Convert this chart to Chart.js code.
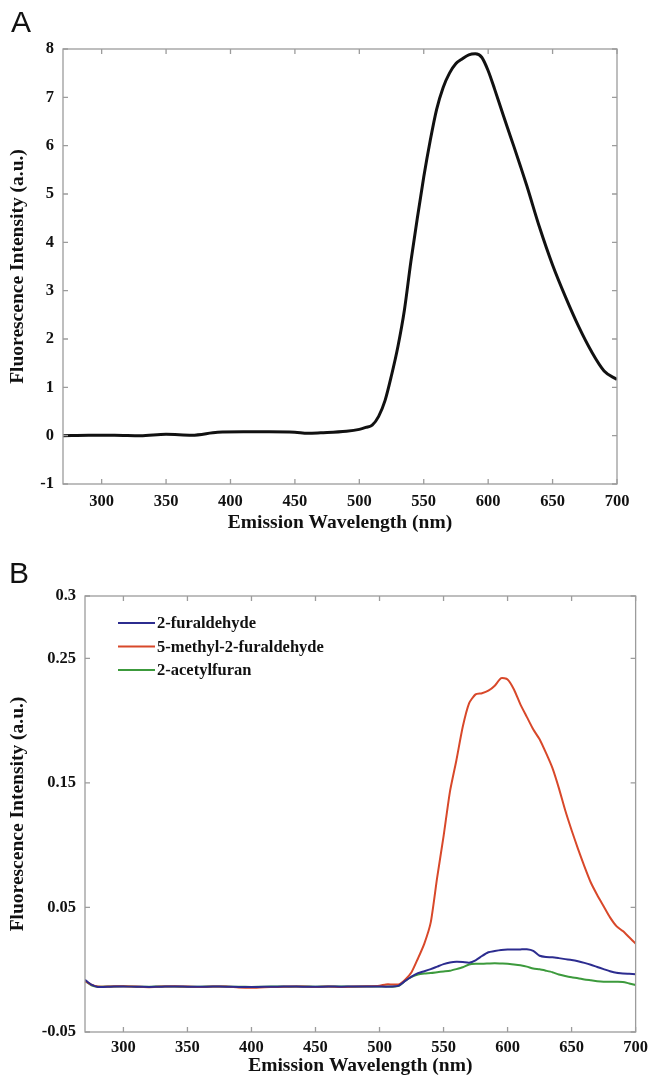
<!doctype html>
<html lang="en">
  <head>
    <meta charset="utf-8">
    <title>Fluorescence emission spectra</title>
    <style>
      * {
        margin: 0;
        padding: 0;
      }
      body {
        width: 654px;
        height: 1076px;
        background: white;
        position: relative;
        overflow: hidden;
      }
      .panel {
        position: absolute;
        left: 0;
        width: 654px;
      }
      #panelA { top: 0; height: 545px; }
      #panelB { top: 545px; height: 531px; }
      .tag {
        position: absolute;
        font-family: "Liberation Sans", Arial, sans-serif;
        font-size: 30px;
        line-height: 1;
        color: #111;
      }
    </style>
  </head>
  <body>
    <div class="panel" id="panelA"><canvas id="chartA"></canvas></div>
    <div class="panel" id="panelB"><canvas id="chartB"></canvas></div>
    <div class="tag" style="left:11px; top:7px;">A</div>
    <div class="tag" style="left:9px; top:558px;">B</div>

    <script src="https://cdn.jsdelivr.net/npm/chart.js/dist/chart.umd.min.js"></script>
    <script>
    // panel A - single spectrum
    const wavelengthsA = [270, 290, 310, 330, 350, 370, 390, 410, 430, 450, 460, 470, 490, 500, 505,
      510, 515, 520, 525, 530, 535, 540, 545, 550, 555, 560, 565, 570, 575, 580, 585, 590, 595,
      600, 605, 610, 615, 620, 625, 630, 640, 650, 660, 670, 680, 690, 700];
    const intensityA = [0.0, 0.01, 0.01, 0.0, 0.03, 0.01, 0.07, 0.08, 0.08, 0.07, 0.05, 0.06, 0.09, 0.13, 0.17,
      0.22, 0.4, 0.73, 1.25, 1.85, 2.6, 3.6, 4.5, 5.35, 6.1, 6.75, 7.2, 7.5, 7.7, 7.8, 7.88, 7.9, 7.83,
      7.55, 7.17, 6.77, 6.37, 5.98, 5.58, 5.17, 4.3, 3.53, 2.87, 2.27, 1.75, 1.34, 1.16];

    // panel B - three furans
    const wavelengthsB = [270, 275, 280, 290, 300, 310, 320, 330, 340, 350, 360, 370, 380, 390, 400,
      410, 420, 430, 440, 450, 460, 470, 480, 490, 500, 505, 510, 515, 520, 525, 530, 535, 540,
      545, 550, 555, 560, 565, 570, 575, 580, 585, 590, 595, 600, 605, 610, 615, 620, 625, 630,
      635, 640, 645, 650, 655, 660, 665, 670, 675, 680, 685, 690, 695, 700];
    const furaldehyde = [-0.008, -0.012, -0.0138, -0.0136, -0.0134, -0.0137, -0.0138, -0.0136, -0.0134, -0.0136, -0.0137, -0.0135, -0.0136, -0.0138, -0.0139,
      -0.0137, -0.0136, -0.0135, -0.0136, -0.0137, -0.0135, -0.0136, -0.0135, -0.0134, -0.0135, -0.0136, -0.0135, -0.0128, -0.009, -0.0055, -0.0028, -0.0012, 0.0005,
      0.0025, 0.0045, 0.0058, 0.0064, 0.0062, 0.0056, 0.0075, 0.011, 0.014, 0.015, 0.0158, 0.0162, 0.0162, 0.0163, 0.0164, 0.0152, 0.0112, 0.0102,
      0.01, 0.0093, 0.0085, 0.0078, 0.0068, 0.0055, 0.004, 0.0022, 0.0005, -0.0012, -0.0025, -0.003, -0.0033, -0.0036];
    const methylFuraldehyde = [-0.009, -0.012, -0.0135, -0.0135, -0.0132, -0.0135, -0.014, -0.0135, -0.0133, -0.0135, -0.0138, -0.0135, -0.0135, -0.0142, -0.0145,
      -0.014, -0.0138, -0.0135, -0.0135, -0.0138, -0.0135, -0.0138, -0.0135, -0.0133, -0.0128, -0.0118, -0.0118, -0.0118, -0.008, -0.002, 0.009, 0.021, 0.038,
      0.074, 0.107, 0.143, 0.168, 0.195, 0.214, 0.221, 0.222, 0.224, 0.228, 0.234, 0.233, 0.225, 0.213, 0.203, 0.193, 0.185, 0.174,
      0.162, 0.146, 0.128, 0.112, 0.097, 0.083, 0.07, 0.06, 0.051, 0.042, 0.035, 0.031, 0.026, 0.021];
    const acetylfuran = [-0.009, -0.0125, -0.0136, -0.0135, -0.0133, -0.0136, -0.0137, -0.0134, -0.0135, -0.0137, -0.0136, -0.0134, -0.0135, -0.0137, -0.0138,
      -0.0136, -0.0135, -0.0136, -0.0135, -0.0136, -0.0134, -0.0135, -0.0136, -0.0135, -0.0134, -0.0135, -0.0136, -0.013, -0.009, -0.0058, -0.0038, -0.003, -0.0026,
      -0.002, -0.0014, -0.0008, 0.0005, 0.002, 0.0042, 0.0048, 0.0048, 0.005, 0.0052, 0.005, 0.0048, 0.0042, 0.0035, 0.0025, 0.001, 0.0003, -0.0008,
      -0.002, -0.0038, -0.005, -0.006, -0.0068, -0.0078, -0.0085, -0.0092, -0.0096, -0.0096, -0.0097, -0.0098, -0.011, -0.0123];

    const seriesNames = ['2-furaldehyde', '5-methyl-2-furaldehyde', '2-acetylfuran'];
    const xTicks = [300, 350, 400, 450, 500, 550, 600, 650, 700];
    const yTicksA = [-1, 0, 1, 2, 3, 4, 5, 6, 7, 8];
    const yTicksB = [-0.05, 0.05, 0.15, 0.25, 0.3];
    const yTickLabelsB = ['-0.05', '0.05', '0.15', '0.25', '0.3'];

    const pts = (xs, ys) => xs.map((x, i) => ({x: x, y: ys[i]}));

    const serif = '"Liberation Serif", "Times New Roman", serif';
    const tickFont = {family: serif, size: 16.5, weight: 'bold'};
    const titleFont = {family: serif, size: 19.5, weight: 'bold'};

    // box around the plot with inward ticks on all four sides
    const frameTicks = {
      id: 'frameTicks',
      afterDatasetsDraw(chart) {
        const {ctx, chartArea: a, scales: {x, y}} = chart;
        ctx.save();
        ctx.strokeStyle = '#9c9c9c';
        ctx.lineWidth = 1.3;
        ctx.strokeRect(a.left, a.top, a.width, a.height);
        ctx.beginPath();
        x.ticks.forEach(t => {
          const px = x.getPixelForValue(t.value);
          ctx.moveTo(px, a.bottom); ctx.lineTo(px, a.bottom - 5);
          ctx.moveTo(px, a.top); ctx.lineTo(px, a.top + 5);
        });
        y.ticks.forEach(t => {
          const py = y.getPixelForValue(t.value);
          ctx.moveTo(a.left, py); ctx.lineTo(a.left + 5, py);
          ctx.moveTo(a.right, py); ctx.lineTo(a.right - 5, py);
        });
        ctx.stroke();
        ctx.restore();
      }
    };

    // legend drawn inside the plot, top left
    const innerLegend = {
      id: 'innerLegend',
      afterDraw(chart, args, opts) {
        if (!opts.show) return;
        const {ctx, chartArea: a} = chart;
        ctx.save();
        ctx.font = 'bold 16.5px ' + serif;
        ctx.textBaseline = 'middle';
        ctx.fillStyle = '#111';
        chart.data.datasets.forEach((ds, i) => {
          const yy = a.top + 27 + i * 23.5;
          ctx.strokeStyle = ds.borderColor;
          ctx.lineWidth = 2;
          ctx.beginPath();
          ctx.moveTo(a.left + 33, yy);
          ctx.lineTo(a.left + 70, yy);
          ctx.stroke();
          ctx.fillText(ds.label, a.left + 72, yy + 1);
        });
        ctx.restore();
      }
    };

    function scalesFor(yWidth, xHeight, yMin, yMax, yTicks, yLabels, xTitleFont, xTitlePad, xTickPad) {
      return {
        x: {
          type: 'linear',
          min: 270,
          max: 700,
          grid: {display: false, drawTicks: false},
          border: {display: false},
          afterBuildTicks: s => { s.ticks = xTicks.map(v => ({value: v})); },
          afterFit: s => { s.height = xHeight; },
          ticks: {font: tickFont, color: '#111', padding: xTickPad, maxRotation: 0},
          title: {display: true, text: 'Emission Wavelength (nm)', font: xTitleFont, color: '#111',
                  padding: {top: 0, bottom: xTitlePad}}
        },
        y: {
          min: yMin,
          max: yMax,
          grid: {display: false, drawTicks: false},
          border: {display: false},
          afterBuildTicks: s => { s.ticks = yTicks.map(v => ({value: v})); },
          afterFit: s => { s.width = yWidth; },
          ticks: {
            font: tickFont, color: '#111', padding: 9,
            callback: (v, i) => yLabels ? yLabels[i] : String(v)
          },
          title: {display: true, text: 'Fluorescence Intensity (a.u.)', font: titleFont, color: '#111',
                  padding: {top: 6, bottom: 0}}
        }
      };
    }

    const chartA = new Chart(document.getElementById('chartA'), {
      type: 'line',
      data: {
        datasets: [{
          label: 'emission',
          data: pts(wavelengthsA, intensityA),
          borderColor: '#111',
          borderWidth: 3,
          pointRadius: 0,
          cubicInterpolationMode: 'monotone'
        }]
      },
      options: {
        responsive: true,
        maintainAspectRatio: false,
        animation: false,
        layout: {padding: {top: 49, right: 37, left: 0, bottom: 0}},
        plugins: {legend: {display: false}, tooltip: {enabled: false}, innerLegend: {show: false}},
        scales: scalesFor(63, 61, -1, 8, yTicksA, null, titleFont, 10, 8)
      },
      plugins: [frameTicks, innerLegend]
    });

    const chartB = new Chart(document.getElementById('chartB'), {
      type: 'line',
      data: {
        datasets: [{
          label: seriesNames[0],
          data: pts(wavelengthsB, furaldehyde),
          borderColor: '#2c2c8f',
          borderWidth: 2,
          pointRadius: 0,
          tension: 0.2
        }, {
          label: seriesNames[1],
          data: pts(wavelengthsB, methylFuraldehyde),
          borderColor: '#d8482a',
          borderWidth: 2,
          pointRadius: 0,
          tension: 0.2
        }, {
          label: seriesNames[2],
          data: pts(wavelengthsB, acetylfuran),
          borderColor: '#3c9a3c',
          borderWidth: 2,
          pointRadius: 0,
          tension: 0.2
        }]
      },
      options: {
        responsive: true,
        maintainAspectRatio: false,
        animation: false,
        layout: {padding: {top: 51, right: 14, left: 0, bottom: 0}},
        plugins: {legend: {display: false}, tooltip: {enabled: false}, innerLegend: {show: true}},
        scales: scalesFor(85, 44, -0.05, 0.3, yTicksB, yTickLabelsB,
                          {family: serif, size: 19.5, weight: 'bold', lineHeight: 1}, 0, 6)
      },
      plugins: [frameTicks, innerLegend]
    });
    </script>
  </body>
</html>
